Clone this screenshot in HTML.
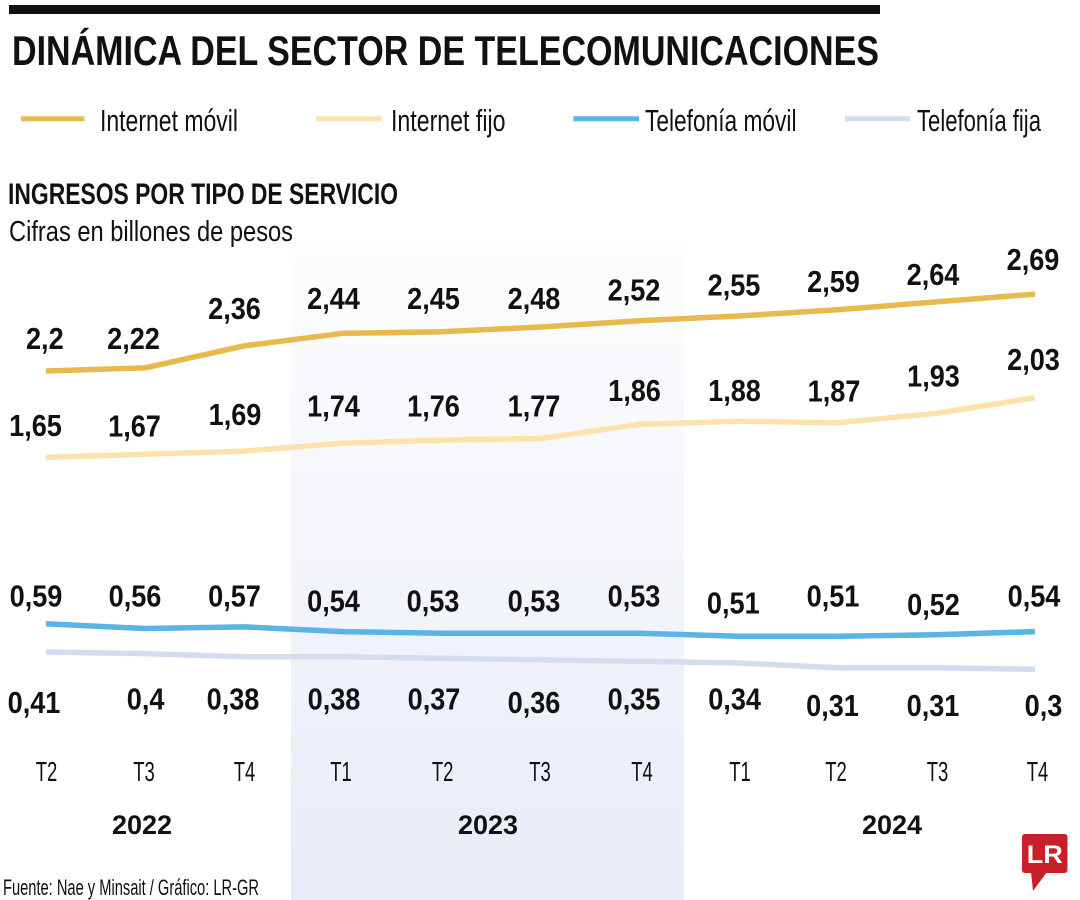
<!DOCTYPE html>
<html>
<head>
<meta charset="utf-8">
<style>
  html, body { margin:0; padding:0; background:#ffffff; }
  body { width:1080px; height:900px; overflow:hidden; }
  svg { display:block; }
  text { font-family: "Liberation Sans", "DejaVu Sans", sans-serif; fill:#111; }
  .lbl { font-size:31px; font-weight:bold; }
  .tick { font-size:28px; fill:#222; }
  .yr { font-size:27px; font-weight:bold; }
  .leg { font-size:31px; fill:#111; }
</style>
</head>
<body>
<svg width="1080" height="900" viewBox="0 0 1080 900" xmlns="http://www.w3.org/2000/svg">
  <defs>
    <linearGradient id="shade" x1="0" y1="0" x2="0" y2="1">
      <stop offset="0" stop-color="#fdfdfe"/>
      <stop offset="0.5" stop-color="#f3f5fb"/>
      <stop offset="1" stop-color="#e7ecf7"/>
    </linearGradient>
  </defs>

  <!-- shaded 2023 band -->
  <rect x="291" y="243" width="393" height="657" fill="url(#shade)"/>

  <!-- top bar -->
  <rect x="9" y="5" width="871" height="9" fill="#111"/>

  <!-- title -->
  <text x="12" y="65" font-size="42" font-weight="bold" textLength="867" lengthAdjust="spacingAndGlyphs">DINÁMICA DEL SECTOR DE TELECOMUNICACIONES</text>

  <!-- legend -->
  <line x1="21" y1="118.8" x2="84.5" y2="118.8" stroke="#e8b94f" stroke-width="5"/>
  <text class="leg" x="100" y="131" textLength="138" lengthAdjust="spacingAndGlyphs">Internet móvil</text>
  <line x1="316" y1="118.8" x2="381.5" y2="118.8" stroke="#fde2ab" stroke-width="5"/>
  <text class="leg" x="391" y="131" textLength="114.5" lengthAdjust="spacingAndGlyphs">Internet fijo</text>
  <line x1="573.5" y1="118.8" x2="639" y2="118.8" stroke="#5ab4e5" stroke-width="5"/>
  <text class="leg" x="645" y="131" textLength="151.5" lengthAdjust="spacingAndGlyphs">Telefonía móvil</text>
  <line x1="845" y1="118.8" x2="910" y2="118.8" stroke="#d4ddf0" stroke-width="5"/>
  <text class="leg" x="917" y="131" textLength="124" lengthAdjust="spacingAndGlyphs">Telefonía fija</text>

  <!-- subtitle -->
  <text x="8" y="204" font-size="30" font-weight="bold" textLength="390" lengthAdjust="spacingAndGlyphs">INGRESOS POR TIPO DE SERVICIO</text>
  <text x="9" y="241" font-size="29" textLength="284" lengthAdjust="spacingAndGlyphs">Cifras en billones de pesos</text>

  <!-- series lines -->
  <g fill="none" stroke-width="5.5" stroke-linejoin="round">
    <polyline stroke="#e8b94f" points="46,371 144.9,367.9 243.8,345.9 342.7,333.3 441.6,331.8 540.5,327 639.4,320.8 738.3,316 837.2,309.8 936.1,301.9 1035,294.1"/>
    <polyline stroke="#fde2ab" points="46,457.4 144.9,454.2 243.8,451.1 342.7,443.2 441.6,440.1 540.5,438.5 639.4,424.4 738.3,421.2 837.2,422.8 936.1,413.4 1035,397.7"/>
    <polyline stroke="#5ab4e5" points="46,623.8 144.9,628.5 243.8,626.9 342.7,631.6 441.6,633.2 540.5,633.2 639.4,633.2 738.3,636.3 837.2,636.3 936.1,634.8 1035,631.6"/>
    <polyline stroke="#d4ddf0" points="46,652 144.9,653.6 243.8,656.7 342.7,656.7 441.6,658.3 540.5,659.9 639.4,661.4 738.3,663 837.2,667.7 936.1,667.7 1035,669.3"/>
  </g>

  <!-- value labels: Internet móvil -->
  <g class="lbl" text-anchor="middle">
    <text transform="translate(44.8,349) scale(0.875,1)">2,2</text>
    <text transform="translate(133.5,349) scale(0.875,1)">2,22</text>
    <text transform="translate(234.5,319) scale(0.875,1)">2,36</text>
    <text transform="translate(333.5,309) scale(0.875,1)">2,44</text>
    <text transform="translate(433.5,309) scale(0.875,1)">2,45</text>
    <text transform="translate(534,309) scale(0.875,1)">2,48</text>
    <text transform="translate(634,300.5) scale(0.875,1)">2,52</text>
    <text transform="translate(734,295.5) scale(0.875,1)">2,55</text>
    <text transform="translate(833.5,292) scale(0.875,1)">2,59</text>
    <text transform="translate(933,285) scale(0.875,1)">2,64</text>
    <text transform="translate(1033,270) scale(0.875,1)">2,69</text>

    <!-- Internet fijo -->
    <text transform="translate(35.5,436) scale(0.875,1)">1,65</text>
    <text transform="translate(134.5,436.5) scale(0.875,1)">1,67</text>
    <text transform="translate(235,425) scale(0.875,1)">1,69</text>
    <text transform="translate(333.5,416.7) scale(0.875,1)">1,74</text>
    <text transform="translate(433.5,416.7) scale(0.875,1)">1,76</text>
    <text transform="translate(534,416.7) scale(0.875,1)">1,77</text>
    <text transform="translate(634.5,401) scale(0.875,1)">1,86</text>
    <text transform="translate(734.5,401) scale(0.875,1)">1,88</text>
    <text transform="translate(834,401.5) scale(0.875,1)">1,87</text>
    <text transform="translate(933.5,386.7) scale(0.875,1)">1,93</text>
    <text transform="translate(1033.5,370) scale(0.875,1)">2,03</text>

    <!-- Telefonía móvil -->
    <text transform="translate(36,606.7) scale(0.875,1)">0,59</text>
    <text transform="translate(135,606.7) scale(0.875,1)">0,56</text>
    <text transform="translate(234.5,606.7) scale(0.875,1)">0,57</text>
    <text transform="translate(333.5,611.7) scale(0.875,1)">0,54</text>
    <text transform="translate(433,611.7) scale(0.875,1)">0,53</text>
    <text transform="translate(534,611.7) scale(0.875,1)">0,53</text>
    <text transform="translate(634,606.7) scale(0.875,1)">0,53</text>
    <text transform="translate(733.3,613.3) scale(0.875,1)">0,51</text>
    <text transform="translate(833,606.7) scale(0.875,1)">0,51</text>
    <text transform="translate(933.5,615) scale(0.875,1)">0,52</text>
    <text transform="translate(1034,606.7) scale(0.875,1)">0,54</text>

    <!-- Telefonía fija -->
    <text transform="translate(34,713) scale(0.875,1)">0,41</text>
    <text transform="translate(145.6,709.5) scale(0.875,1)">0,4</text>
    <text transform="translate(233,709.5) scale(0.875,1)">0,38</text>
    <text transform="translate(334,709.5) scale(0.875,1)">0,38</text>
    <text transform="translate(434,709.5) scale(0.875,1)">0,37</text>
    <text transform="translate(534,713) scale(0.875,1)">0,36</text>
    <text transform="translate(634,709.5) scale(0.875,1)">0,35</text>
    <text transform="translate(734.6,709.5) scale(0.875,1)">0,34</text>
    <text transform="translate(832.5,716) scale(0.875,1)">0,31</text>
    <text transform="translate(933,716) scale(0.875,1)">0,31</text>
    <text transform="translate(1043.5,716) scale(0.875,1)">0,3</text>
  </g>

  <!-- x ticks -->
  <g class="tick" text-anchor="middle">
    <text transform="translate(46.5,781) scale(0.66,1)">T2</text>
    <text transform="translate(144,781) scale(0.66,1)">T3</text>
    <text transform="translate(244.5,781) scale(0.66,1)">T4</text>
    <text transform="translate(341,781) scale(0.66,1)">T1</text>
    <text transform="translate(442.6,781) scale(0.66,1)">T2</text>
    <text transform="translate(540,781) scale(0.66,1)">T3</text>
    <text transform="translate(642,781) scale(0.66,1)">T4</text>
    <text transform="translate(740,781) scale(0.66,1)">T1</text>
    <text transform="translate(836,781) scale(0.66,1)">T2</text>
    <text transform="translate(937.5,781) scale(0.66,1)">T3</text>
    <text transform="translate(1037.5,781) scale(0.66,1)">T4</text>
  </g>

  <!-- years -->
  <g class="yr" text-anchor="middle">
    <text x="142" y="834">2022</text>
    <text x="488" y="834">2023</text>
    <text x="892" y="834">2024</text>
  </g>

  <!-- footer -->
  <text x="3" y="895" font-size="22" fill="#222" textLength="256" lengthAdjust="spacingAndGlyphs">Fuente: Nae y Minsait / Gráfico: LR-GR</text>

  <!-- LR logo -->
  <rect x="1022" y="834" width="45.5" height="39" rx="3" fill="#c8202a"/>
  <polygon points="1031,872 1047,872 1033,891" fill="#c8202a"/>
  <text x="1044.8" y="863" text-anchor="middle" font-family="Liberation Serif, serif" font-size="25" font-weight="bold" style="fill:#ffffff" textLength="36" lengthAdjust="spacingAndGlyphs">LR</text>
</svg>
</body>
</html>
